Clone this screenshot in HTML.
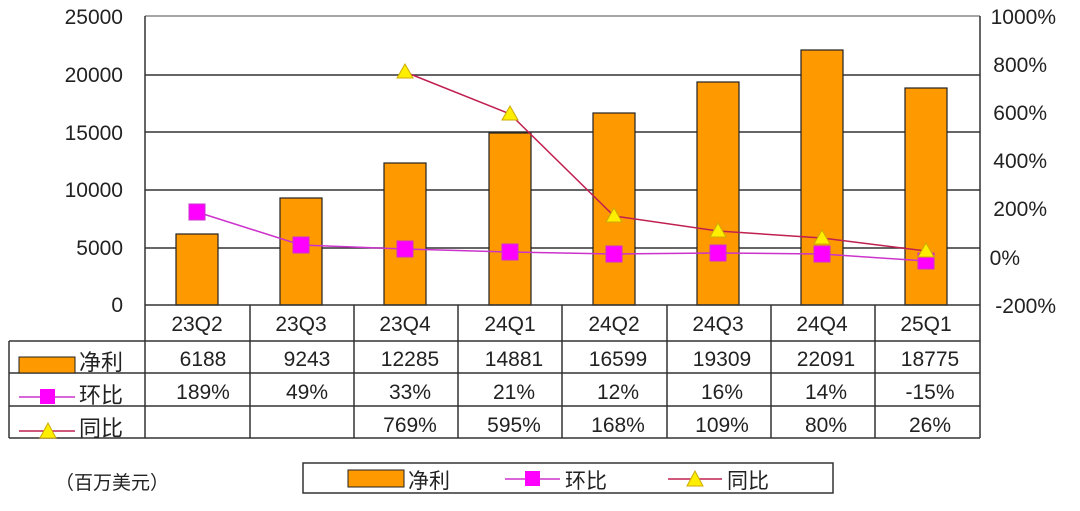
<!DOCTYPE html>
<html><head><meta charset="utf-8"><style>
body{margin:0;background:#fff;}
svg{display:block;font-family:"Liberation Sans","Noto Sans CJK SC",sans-serif;}
</style></head><body>
<svg width="1080" height="511" viewBox="0 0 1080 511">
<g fill="#222" font-size="21" text-anchor="end">
<text x="123" y="24">25000</text><text x="123" y="82">20000</text><text x="123" y="140">15000</text>
<text x="123" y="197">10000</text><text x="123" y="255">5000</text><text x="123" y="312">0</text>
</g>
<g fill="#222" font-size="21" text-anchor="end">
<text x="1056" y="24">1000%</text><text x="1047" y="72">800%</text><text x="1047" y="120">600%</text>
<text x="1047" y="168">400%</text><text x="1047" y="216">200%</text><text x="1020" y="265">0%</text>
<text x="1056" y="313">-200%</text>
</g>
<g stroke="#333" stroke-width="1.5">
<line x1="145" y1="16" x2="980" y2="16" stroke="#888"/>
<line x1="145" y1="75" x2="980" y2="75"/><line x1="145" y1="132" x2="980" y2="132"/>
<line x1="145" y1="190" x2="980" y2="190"/><line x1="145" y1="248" x2="980" y2="248"/>
<line x1="145" y1="16" x2="145" y2="305"/><line x1="980" y1="16" x2="980" y2="305"/>
</g>
<g fill="#FF9900" stroke="#222" stroke-width="1.2">
<rect x="176" y="234" width="42" height="71"/>
<rect x="280" y="198" width="42" height="107"/>
<rect x="384" y="163" width="42" height="142"/>
<rect x="489" y="133" width="42" height="172"/>
<rect x="593" y="113" width="42" height="192"/>
<rect x="697" y="82" width="42" height="223"/>
<rect x="801" y="50" width="42" height="255"/>
<rect x="905" y="88" width="42" height="217"/>
</g>
<polyline fill="none" stroke="#C02050" stroke-width="1.5" points="405,72 510,114 614,216 718,231 822,238 926,251"/>
<polyline fill="none" stroke="#CC33CC" stroke-width="1.5" points="197,212 301,245 405,249 510,252 614,254 718,253 822,254 926,261"/>
<g fill="#FF00FF" stroke="#CC33CC">
<rect x="189" y="204" width="16" height="16"/><rect x="293" y="237" width="16" height="16"/>
<rect x="397" y="241" width="16" height="16"/><rect x="502" y="244" width="16" height="16"/>
<rect x="606" y="246" width="16" height="16"/><rect x="710" y="245" width="16" height="16"/>
<rect x="814" y="246" width="16" height="16"/><rect x="918" y="253" width="16" height="16"/>
</g>
<g fill="#FFEE00" stroke="#CCAA00">
<polygon points="405,64 397,78 413,78"/><polygon points="510,106 502,120 518,120"/>
<polygon points="614,208 606,222 622,222"/><polygon points="718,223 710,237 726,237"/>
<polygon points="822,230 814,244 830,244"/><polygon points="926,243 918,257 934,257"/>
</g>
<g stroke="#333" stroke-width="1.5" fill="none">
<line x1="145" y1="305" x2="980" y2="305"/>
<line x1="9" y1="341" x2="980" y2="341"/><line x1="9" y1="373" x2="980" y2="373"/>
<line x1="9" y1="406" x2="980" y2="406"/><line x1="9" y1="438" x2="980" y2="438"/>
<line x1="9" y1="341" x2="9" y2="438"/>
<line x1="145" y1="305" x2="145" y2="438"/><line x1="250" y1="305" x2="250" y2="438"/>
<line x1="354" y1="305" x2="354" y2="438"/><line x1="458" y1="305" x2="458" y2="438"/>
<line x1="562" y1="305" x2="562" y2="438"/><line x1="667" y1="305" x2="667" y2="438"/>
<line x1="771" y1="305" x2="771" y2="438"/><line x1="875" y1="305" x2="875" y2="438"/>
<line x1="980" y1="305" x2="980" y2="438"/>
</g>
<g fill="#222" font-size="21" text-anchor="middle">
<text x="197" y="331">23Q2</text><text x="301" y="331">23Q3</text><text x="405" y="331">23Q4</text><text x="510" y="331">24Q1</text>
<text x="614" y="331">24Q2</text><text x="718" y="331">24Q3</text><text x="822" y="331">24Q4</text><text x="926" y="331">25Q1</text>
<text x="203" y="366">6188</text><text x="307" y="366">9243</text><text x="410" y="366">12285</text><text x="514" y="366">14881</text>
<text x="618" y="366">16599</text><text x="722" y="366">19309</text><text x="826" y="366">22091</text><text x="930" y="366">18775</text>
<text x="203" y="399">189%</text><text x="307" y="399">49%</text><text x="410" y="399">33%</text><text x="514" y="399">21%</text>
<text x="618" y="399">12%</text><text x="722" y="399">16%</text><text x="826" y="399">14%</text><text x="930" y="399">-15%</text>
<text x="410" y="432">769%</text><text x="514" y="432">595%</text><text x="618" y="432">168%</text><text x="722" y="432">109%</text>
<text x="826" y="432">80%</text><text x="930" y="432">26%</text>
</g>
<rect x="19" y="357" width="56" height="16" fill="#FF9900" stroke="#222"/>
<line x1="19" y1="397" x2="75" y2="397" stroke="#CC33CC" stroke-width="1.5"/>
<rect x="40" y="389" width="15" height="15" fill="#FF00FF"/>
<line x1="19" y1="431" x2="75" y2="431" stroke="#C02050" stroke-width="1.5"/>
<polygon points="48,423 40,438 56,438" fill="#FFEE00" stroke="#CCAA00"/>
<g fill="#222" font-size="22"><text x="79" y="370">净利</text><text x="79" y="403">环比</text><text x="79" y="436">同比</text></g>
<text x="55" y="489" font-size="19" fill="#222">（百万美元）</text>
<rect x="303" y="463" width="530" height="30" fill="none" stroke="#333" stroke-width="1.5"/>
<rect x="348" y="470" width="56" height="17" fill="#FF9900" stroke="#222"/>
<text x="408" y="488" font-size="21" fill="#222">净利</text>
<line x1="505" y1="479" x2="560" y2="479" stroke="#CC33CC" stroke-width="1.5"/>
<rect x="525" y="471" width="15" height="15" fill="#FF00FF"/>
<text x="565" y="488" font-size="21" fill="#222">环比</text>
<line x1="668" y1="479" x2="722" y2="479" stroke="#C02050" stroke-width="1.5"/>
<polygon points="695,471 687,486 703,486" fill="#FFEE00" stroke="#CCAA00"/>
<text x="727" y="488" font-size="21" fill="#222">同比</text>
</svg>
</body></html>
